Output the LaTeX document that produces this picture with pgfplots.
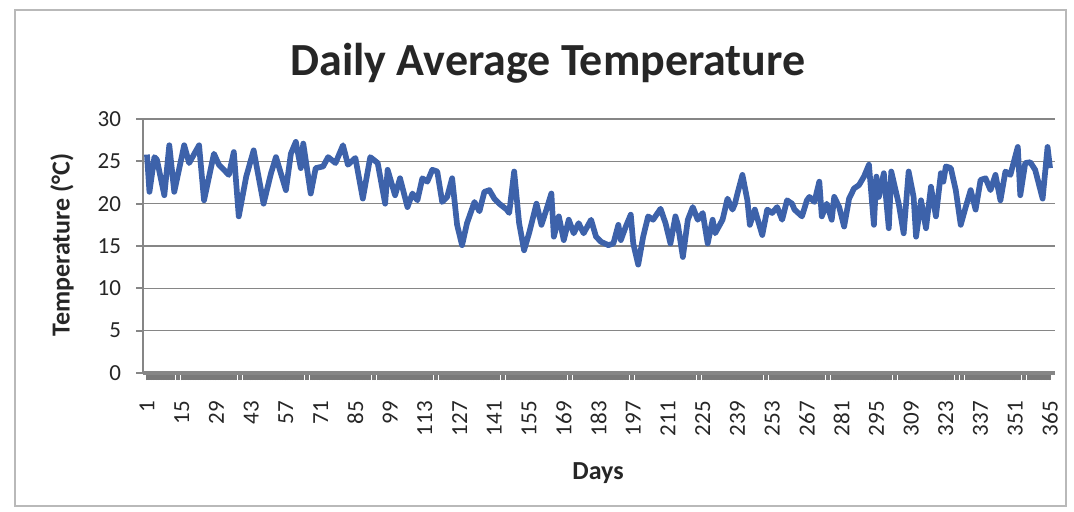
\documentclass[border=0pt]{standalone}
\usepackage{fontspec}
\setmainfont{Carlito}
\usepackage{pgfplots}
\pgfplotsset{compat=1.18}
\definecolor{lineblue}{RGB}{61,98,170}
\definecolor{gridgray}{RGB}{134,134,134}
\definecolor{txt}{RGB}{38,38,38}
\begin{document}
\begin{tikzpicture}
\path[use as bounding box] (0,0) rectangle (537pt,255.5pt);
\draw[gray!55, line width=0.6pt] (7.5pt,2.5pt) rectangle (533pt,250.5pt);
\begin{axis}[
  at={(71.5pt,69pt)}, anchor=south west,
  scale only axis, width=456pt, height=127pt,
  xmin=-0.6, xmax=367, ymin=0, ymax=30,
  ytick={0,5,...,30},
  xtick={1,15,...,365},
  minor xtick={1,...,365},
  axis x line*=bottom, axis y line*=left,
  axis line style={draw=gridgray, line width=1pt},
  x axis line style={line width=1.6pt},
  tick style={draw=gridgray, line width=0.9pt},
  xtick style={draw=gridgray!90!black, line width=1.2pt},
  minor x tick style={draw=gridgray!90!black, line width=1.2pt},
  tick align=outside,
  major tick length=3.5pt, minor tick length=3.5pt,
  ymajorgrids, grid style={draw=gridgray, line width=0.8pt},
  /pgf/number format/assume math mode=true,
  ticklabel style={font=\fontsize{11.5}{12}\selectfont, text=txt},
  xticklabel style={rotate=90, anchor=east},
  xticklabel shift=7pt,
  yticklabel shift=4pt,
  clip=false,
]
\addplot[lineblue, line width=2.85pt, line join=round] coordinates {
(1,25.8) (2,21.4) (4,25.5) (5,25.2) (8,21.0) (10,26.9) (12,21.4) (16,26.9) (18,24.8) (22,26.9)
(24,20.4) (28,25.9) (30,24.6) (34,23.4) (36,26.1) (38,18.5) (41,23.2) (44,26.3) (48,20.0) (51,23.6)
(53,25.5) (57,21.6) (59,25.9) (61,27.3) (63,24.2) (64,27.1) (67,21.2) (69,24.2) (72,24.4) (74,25.5)
(77,24.8) (80,26.9) (82,24.6) (85,25.4) (88,20.6) (91,25.5) (94,24.8) (97,20.0) (98,24.0) (101,21.0)
(103,23.0) (106,19.6) (108,21.2) (110,20.4) (112,23.0) (114,22.6) (116,24.0) (118,23.8) (120,20.2) (122,20.8)
(124,23.0) (126,17.5) (128,15.1) (130,17.7) (133,20.2) (135,19.1) (137,21.4) (139,21.6) (141,20.6) (143,20.0)
(146,19.3) (147,18.9) (149,23.8) (151,17.7) (152,16.1) (153,14.5) (155,16.5) (158,20.0) (160,17.5) (162,19.3)
(164,21.2) (165,16.1) (167,18.5) (169,15.7) (171,18.1) (173,16.5) (175,17.7) (177,16.5) (180,18.1) (182,16.1)
(184,15.5) (187,15.1) (189,15.3) (191,17.5) (192,15.7) (194,17.3) (196,18.7) (197,15.3) (199,12.8) (201,16.1)
(203,18.5) (205,18.1) (208,19.4) (210,17.7) (212,15.3) (214,18.5) (215,17.5) (217,13.7) (219,18.1) (221,19.6)
(223,18.1) (225,18.9) (227,15.3) (229,18.1) (230,16.5) (233,18.1) (235,20.6) (237,19.3) (238,20.0) (239,21.2)
(241,23.4) (243,20.4) (244,17.5) (246,19.3) (249,16.3) (251,19.3) (253,18.9) (255,19.6) (257,18.1) (259,20.4)
(261,20.0) (262,19.3) (265,18.5) (267,20.4) (268,20.8) (270,20.2) (272,22.6) (273,18.5) (275,20.0) (277,18.1)
(278,20.8) (280,19.6) (282,17.3) (284,20.6) (286,21.8) (288,22.2) (290,23.2) (292,24.6) (294,17.5) (295,23.2)
(296,20.8) (298,23.6) (300,17.1) (301,23.8) (304,20.0) (306,16.5) (308,23.8) (310,20.8) (311,16.1) (313,20.4)
(315,17.1) (317,22.0) (319,18.5) (321,23.6) (322,22.6) (323,24.4) (325,24.2) (327,21.6) (329,17.5) (331,19.6)
(333,21.6) (335,19.3) (337,22.8) (339,23.0) (341,21.6) (343,23.4) (345,20.4) (347,23.8) (349,23.4) (352,26.7)
(353,21.0) (355,24.8) (357,24.9) (359,24.0) (362,20.6) (364,26.7) (365,24.2)
};
\end{axis}
\node[font=\bfseries\fontsize{23}{27}\selectfont, text=txt] at (274pt,224pt) {Daily Average Temperature};
\node[font=\bfseries\fontsize{13}{15}\selectfont, text=txt] at (299pt,19pt) {Days};
\node[font=\bfseries\fontsize{13}{15}\selectfont, text=txt, rotate=90] at (31pt,133pt) {Temperature (°C)};
\end{tikzpicture}
\end{document}
